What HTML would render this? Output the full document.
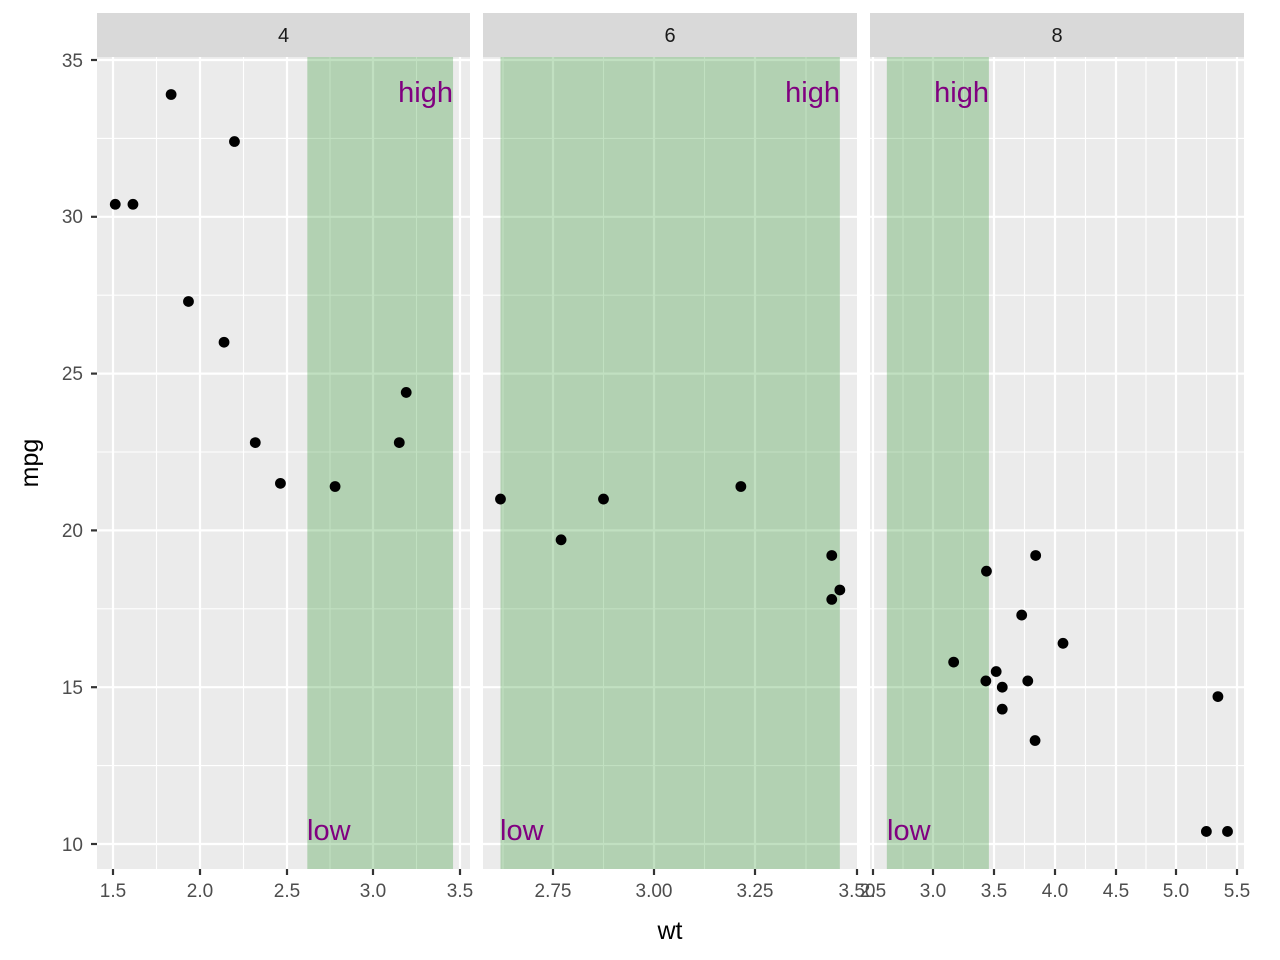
<!DOCTYPE html>
<html><head><meta charset="utf-8"><style>
body{margin:0;background:#fff}
svg{display:block;font-family:"Liberation Sans",Arial,sans-serif}
</style></head><body>
<svg id="s" width="1280" height="960" xmlns="http://www.w3.org/2000/svg">
<g id="bg"></g>
<g font-size="20" fill="#1a1a1a" text-anchor="middle">
<text x="283.5" y="42">4</text><text x="670" y="42">6</text><text x="1057" y="42">8</text>
</g>
<g font-size="19" fill="#4d4d4d" text-anchor="end">
<text x="83" y="851">10</text><text x="83" y="694">15</text><text x="83" y="537">20</text>
<text x="83" y="380">25</text><text x="83" y="223">30</text><text x="83" y="67">35</text>
</g>
<g font-size="19" fill="#4d4d4d" text-anchor="middle">
<text x="113" y="897">1.5</text><text x="200" y="897">2.0</text><text x="287" y="897">2.5</text><text x="373" y="897">3.0</text><text x="460" y="897">3.5</text>
<text x="553" y="897">2.75</text><text x="654" y="897">3.00</text><text x="755" y="897">3.25</text><text x="857" y="897">3.50</text>
<text x="873" y="897">2.5</text><text x="933" y="897">3.0</text><text x="994" y="897">3.5</text><text x="1055" y="897">4.0</text><text x="1116" y="897">4.5</text><text x="1176" y="897">5.0</text><text x="1237" y="897">5.5</text>
</g>
<text x="670" y="939" font-size="25" text-anchor="middle" fill="#000">wt</text>
<text transform="translate(38,463) rotate(-90)" font-size="25" text-anchor="middle" fill="#000">mpg</text>
<g font-size="29" fill="#800080">
<text x="453" y="102" text-anchor="end">high</text><text x="840" y="102" text-anchor="end">high</text><text x="989" y="102" text-anchor="end">high</text>
<text x="307" y="840">low</text><text x="500" y="840">low</text><text x="887" y="840">low</text>
</g>
</svg>
<script>
var ns="http://www.w3.org/2000/svg",g=document.getElementById("bg");
function el(t,a){var e=document.createElementNS(ns,t);for(var k in a)e.setAttribute(k,a[k]);g.appendChild(e);return e;}
var P=[{x0:97,x1:470,o:113,v0:1.5,s:173.5,maj:[113,200,287,373,460],min:[156.5,243.5,330,416.5],d:[[2.32,22.8],[3.19,24.4],[3.15,22.8],[2.2,32.4],[1.615,30.4],[1.835,33.9],[2.465,21.5],[1.935,27.3],[2.14,26],[1.513,30.4],[2.78,21.4]]},
{x0:483,x1:857,o:654,v0:3,s:404,maj:[553,654,755],min:[503,603.5,704.5,806],d:[[2.62,21],[2.875,21],[3.215,21.4],[3.46,18.1],[3.44,19.2],[3.44,17.8],[2.77,19.7]]},
{x0:870,x1:1244,o:933,v0:3,s:121.5,maj:[873,933,994,1055,1116,1176,1237],min:[903,963.5,1024.5,1085.5,1146,1206.5],d:[[3.44,18.7],[3.57,14.3],[4.07,16.4],[3.73,17.3],[3.78,15.2],[5.25,10.4],[5.424,10.4],[5.345,14.7],[3.52,15.5],[3.435,15.2],[3.84,13.3],[3.845,19.2],[3.17,15.8],[3.57,15.0]]}];
function Y(m){return 60+(35-m)*31.36;}
var ymaj=[10,15,20,25,30,35].map(Y),ymin=[12.5,17.5,22.5,27.5,32.5].map(Y);
P.forEach(function(p){
 el("rect",{x:p.x0,y:13,width:p.x1-p.x0,height:44,fill:"#d9d9d9"});
 el("rect",{x:p.x0,y:57,width:p.x1-p.x0,height:812,fill:"#ebebeb"});
 ymin.forEach(function(y){el("line",{x1:p.x0,x2:p.x1,y1:y,y2:y,stroke:"#fff","stroke-width":1.1});});
 p.min.forEach(function(x){el("line",{x1:x,x2:x,y1:57,y2:869,stroke:"#fff","stroke-width":1.1});});
 ymaj.forEach(function(y){el("line",{x1:p.x0,x2:p.x1,y1:y,y2:y,stroke:"#fff","stroke-width":2.2});});
 p.maj.forEach(function(x){el("line",{x1:x,x2:x,y1:57,y2:869,stroke:"#fff","stroke-width":2.2});el("line",{x1:x,x2:x,y1:869,y2:875,stroke:"#333","stroke-width":2.2});});
 var a=p.o+(2.62-p.v0)*p.s,b=p.o+(3.46-p.v0)*p.s;
 el("rect",{x:a,y:57,width:b-a,height:812,fill:"#008000","fill-opacity":0.243});
 p.d.forEach(function(d){el("circle",{cx:p.o+(d[0]-p.v0)*p.s,cy:Y(d[1]),r:5.4,fill:"#000"});});
});
el("line",{x1:857,x2:857,y1:869,y2:875,stroke:"#333","stroke-width":2.2});
ymaj.forEach(function(y){el("line",{x1:91,x2:97,y1:y,y2:y,stroke:"#333","stroke-width":2.2});});
</script>
</body></html>
